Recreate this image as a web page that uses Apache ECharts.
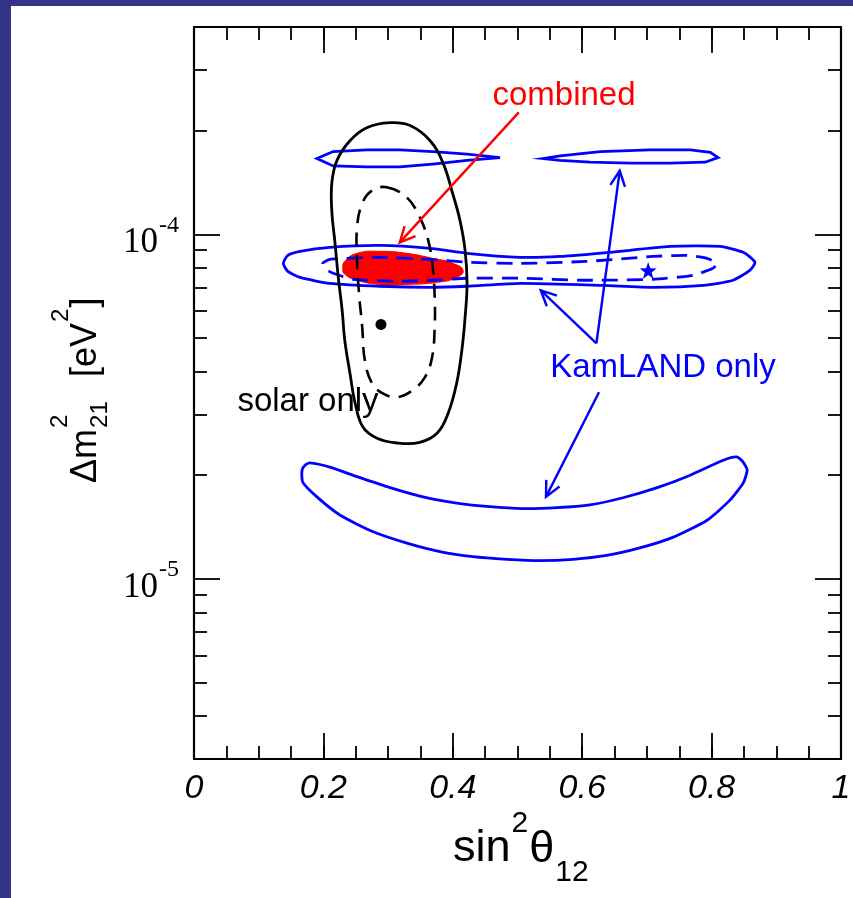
<!DOCTYPE html>
<html><head><meta charset="utf-8">
<script src="https://cdn.jsdelivr.net/npm/echarts@6/dist/echarts.min.js"></script>
<style>html,body{margin:0;padding:0;background:#fff}#c{width:853px;height:898px}</style>
</head><body><div id="c"></div>
<script>
// ---------- data ----------
const xRange = [0, 1];
const xMajorTicks = [0, 0.2, 0.4, 0.6, 0.8, 1];
const xTickLabels = ['0', '0.2', '0.4', '0.6', '0.8', '1'];
const xMinorStep = 0.05;
const yRange = [3e-6, 4e-4];            // Δm² range (eV²)
const yMajorTicks = [1e-5, 1e-4];
const yTickExponents = ['-5', '-4'];
const yMinorMantissas = [2, 3, 4, 5, 6, 7, 8, 9];
const yMinorDecades = [1e-6, 1e-5, 1e-4];

// contours: [sin²θ12, Δm²21 (eV²)]
const solarOuter = [
 [0.303,2.11e-4],[0.334,2.07e-4],[0.365,1.87e-4],[0.385,1.61e-4],[0.400,1.31e-4],[0.411,1.10e-4],
 [0.419,8.99e-5],[0.422,7.21e-5],[0.419,5.74e-5],[0.414,4.61e-5],[0.406,3.70e-5],[0.393,3.03e-5],
 [0.376,2.65e-5],[0.349,2.49e-5],[0.314,2.48e-5],[0.283,2.56e-5],[0.261,2.76e-5],[0.249,3.24e-5],
 [0.241,3.96e-5],[0.233,4.93e-5],[0.229,6.02e-5],[0.223,7.50e-5],[0.218,9.42e-5],[0.213,1.17e-4],
 [0.213,1.41e-4],[0.221,1.64e-4],[0.241,1.87e-4],[0.267,2.04e-4]
];
const solarInner = [
 [0.298,1.37e-4],[0.329,1.28e-4],[0.349,1.12e-4],[0.362,9.61e-5],[0.369,8.02e-5],[0.372,6.57e-5],
 [0.372,5.38e-5],[0.368,4.40e-5],[0.357,3.85e-5],[0.338,3.53e-5],[0.314,3.37e-5],[0.291,3.46e-5],
 [0.275,3.70e-5],[0.264,4.31e-5],[0.260,5.38e-5],[0.255,6.75e-5],[0.252,8.41e-5],[0.252,1.05e-4],
 [0.260,1.23e-4],[0.275,1.34e-4]
];
const combined = [
 [0.230,7.97e-5],[0.233,8.35e-5],[0.252,8.81e-5],[0.287,8.93e-5],[0.329,8.81e-5],[0.369,8.52e-5],
 [0.400,8.24e-5],[0.416,7.86e-5],[0.406,7.50e-5],[0.376,7.26e-5],[0.329,7.16e-5],[0.287,7.16e-5],
 [0.252,7.36e-5],[0.233,7.66e-5]
];
const kamlandMain = [
 [0.138,8.24e-5],[0.145,8.69e-5],[0.164,8.93e-5],[0.210,9.17e-5],[0.287,9.29e-5],[0.365,9.11e-5],
 [0.422,8.81e-5],[0.504,8.58e-5],[0.566,8.63e-5],[0.643,8.87e-5],[0.736,9.23e-5],[0.813,9.23e-5],
 [0.849,8.87e-5],[0.867,8.30e-5],[0.859,7.86e-5],[0.833,7.36e-5],[0.787,7.11e-5],[0.709,7.02e-5],
 [0.632,7.11e-5],[0.504,7.21e-5],[0.422,7.07e-5],[0.365,7.02e-5],[0.287,7.07e-5],[0.210,7.21e-5],
 [0.164,7.50e-5],[0.145,7.81e-5]
];
const kamlandInner = [
 [0.199,8.24e-5],[0.210,8.46e-5],[0.236,8.52e-5],[0.287,8.58e-5],[0.365,8.46e-5],[0.427,8.30e-5],
 [0.504,8.24e-5],[0.607,8.35e-5],[0.709,8.63e-5],[0.762,8.69e-5],[0.793,8.52e-5],[0.808,8.24e-5],
 [0.802,7.97e-5],[0.771,7.61e-5],[0.709,7.41e-5],[0.607,7.36e-5],[0.504,7.46e-5],[0.422,7.46e-5],
 [0.365,7.36e-5],[0.314,7.31e-5],[0.246,7.41e-5],[0.215,7.71e-5],[0.202,7.97e-5]
];
const kamlandUpperLeft = [
 [0.190,1.66e-4],[0.215,1.74e-4],[0.267,1.76e-4],[0.318,1.76e-4],[0.369,1.74e-4],[0.422,1.71e-4],
 [0.473,1.67e-4],[0.422,1.64e-4],[0.369,1.60e-4],[0.318,1.57e-4],[0.267,1.57e-4],[0.215,1.58e-4]
];
const kamlandUpperRight = [
 [0.539,1.66e-4],[0.566,1.69e-4],[0.628,1.74e-4],[0.705,1.76e-4],[0.767,1.76e-4],[0.798,1.73e-4],
 [0.810,1.67e-4],[0.790,1.62e-4],[0.736,1.61e-4],[0.674,1.61e-4],[0.612,1.62e-4],[0.566,1.64e-4]
];
const kamlandLower = [
 [0.172,2.14e-5],[0.179,2.17e-5],[0.210,2.11e-5],[0.252,1.98e-5],[0.303,1.84e-5],[0.354,1.73e-5],
 [0.406,1.66e-5],[0.457,1.62e-5],[0.508,1.60e-5],[0.561,1.61e-5],[0.612,1.64e-5],[0.663,1.72e-5],
 [0.716,1.84e-5],[0.767,2.00e-5],[0.818,2.21e-5],[0.839,2.26e-5],[0.849,2.18e-5],[0.855,2.07e-5],
 [0.849,1.90e-5],[0.828,1.69e-5],[0.793,1.48e-5],[0.740,1.32e-5],[0.689,1.23e-5],[0.638,1.17e-5],
 [0.586,1.14e-5],[0.535,1.13e-5],[0.484,1.14e-5],[0.431,1.16e-5],[0.380,1.20e-5],[0.329,1.27e-5],
 [0.277,1.37e-5],[0.226,1.53e-5],[0.190,1.73e-5],[0.168,1.91e-5],[0.167,2.07e-5]
];
const solarBest = [0.289, 5.48e-5];
const kamlandBest = [0.702, 7.86e-5];
// arrows: [x_from, dm2_from, x_to, dm2_to]
const redArrows = [[0.502, 2.26e-4, 0.318, 9.48e-5]];
const blueArrows = [
 [0.622, 4.83e-5, 0.658, 1.53e-4],
 [0.622, 4.83e-5, 0.536, 6.88e-5],
 [0.626, 3.48e-5, 0.544, 1.73e-5]
];
const annotations = [
 {text: 'combined', color: '#ff0000', x: 564, y: 96},
 {text: 'solar only', color: '#000000', x: 308, y: 402},
 {text: 'KamLAND only', color: '#0000ff', x: 663, y: 368}
];

// ---------- helpers ----------
const L = Math.log10;
const SANS = '"Liberation Sans", Arial, sans-serif';
const SERIF = '"Liberation Serif", "Times New Roman", serif';
const yMajorLog = yMajorTicks.map(L);
const yMinorLog = [];
yMinorDecades.forEach(d => yMinorMantissas.forEach(m => {
  const v = m * d; if (v >= yRange[0] * 0.999 && v <= yRange[1] * 1.001) yMinorLog.push(L(v));
}));
const mctx = document.createElement('canvas').getContext('2d');
function tw(t, font) { mctx.font = font; return mctx.measureText(t).width; }

function contour(points, style, smooth) {
  return {
    type: 'custom', coordinateSystem: 'cartesian2d', xAxisIndex: 0, yAxisIndex: 0,
    silent: true, clip: true,
    data: [[points[0][0], L(points[0][1])]],
    renderItem: (params, api) => ({
      type: 'polygon',
      shape: {points: points.map(p => api.coord([p[0], L(p[1])])), smooth: smooth},
      style: style
    })
  };
}
function arrowSeries(list, color, width) {
  return {
    type: 'custom', coordinateSystem: 'cartesian2d', xAxisIndex: 0, yAxisIndex: 0,
    silent: true, clip: false,
    data: list.map(a => [a[0], L(a[1]), a[2], L(a[3])]),
    renderItem: (params, api) => {
      const p1 = api.coord([api.value(0), api.value(1)]);
      const p2 = api.coord([api.value(2), api.value(3)]);
      const dx = p2[0] - p1[0], dy = p2[1] - p1[1], len = Math.hypot(dx, dy);
      const ux = dx / len, uy = dy / len, a = 0.45, h = 17;
      const c = Math.cos(a), s = Math.sin(a);
      const l = [p2[0] - h * (ux * c - uy * s), p2[1] - h * (uy * c + ux * s)];
      const r = [p2[0] - h * (ux * c + uy * s), p2[1] - h * (uy * c - ux * s)];
      const st = {stroke: color, lineWidth: width, fill: 'none'};
      return {type: 'group', children: [
        {type: 'line', shape: {x1: p1[0], y1: p1[1], x2: p2[0], y2: p2[1]}, style: st},
        {type: 'polyline', shape: {points: [l, p2, r]}, style: st}
      ]};
    }
  };
}

const BLUE = '#0000ff';
const blackSolid = {fill: 'none', stroke: '#000', lineWidth: 2.8};
const blackDash = {fill: 'none', stroke: '#000', lineWidth: 2.6, lineDash: [14, 9]};
const blueSolid = {fill: 'none', stroke: BLUE, lineWidth: 2.8};
const blueDash = {fill: 'none', stroke: BLUE, lineWidth: 2.8, lineDash: [16, 9]};

const tickStyle = {color: '#000', width: 1.8};
function xAx(pos, major) {
  return {
    type: 'value', position: pos, min: xRange[0], max: xRange[1],
    interval: major ? 0.2 : xMinorStep,
    splitLine: {show: false},
    axisLine: {show: major, onZero: false, lineStyle: {color: '#000', width: 2.2}},
    axisTick: {show: true, inside: true, length: major ? 26 : 13, lineStyle: tickStyle},
    axisLabel: (major && pos === 'bottom') ? {
      show: true, margin: 13, showMinLabel: true, showMaxLabel: true,
      fontFamily: SANS, fontStyle: 'italic', fontSize: 34, color: '#000',
      formatter: v => { const i = xMajorTicks.findIndex(t => Math.abs(t - v) < 1e-9); return i >= 0 ? xTickLabels[i] : ''; }
    } : {show: false}
  };
}
function yAx(pos, major) {
  return {
    type: 'value', position: pos, min: L(yRange[0]), max: L(yRange[1]),
    splitLine: {show: false},
    axisLine: {show: major, onZero: false, lineStyle: {color: '#000', width: 2.2}},
    axisTick: {show: true, inside: true, length: major ? 26 : 13, customValues: major ? yMajorLog : yMinorLog, lineStyle: tickStyle},
    axisLabel: {show: false}
  };
}

const option = {
  animation: false,
  backgroundColor: '#fff',
  grid: {left: 194, top: 27, width: 647, height: 732, outerBoundsMode: 'none', containLabel: false},
  xAxis: [xAx('bottom', true), xAx('bottom', false), xAx('top', true), xAx('top', false)],
  yAxis: [yAx('left', true), yAx('left', false), yAx('right', true), yAx('right', false)],
  series: [
    contour(combined, {fill: '#ff0000', stroke: '#ff0000', lineWidth: 1}, 0.5),
    contour(kamlandMain, blueSolid, 0.2),
    contour(kamlandInner, blueDash, 0.2),
    contour(kamlandUpperLeft, blueSolid, 0),
    contour(kamlandUpperRight, blueSolid, 0),
    contour(kamlandLower, blueSolid, 0.2),
    contour(solarOuter, blackSolid, 0.4),
    contour(solarInner, blackDash, 0.4),
    {type: 'scatter', xAxisIndex: 0, yAxisIndex: 0, silent: true, symbol: 'circle', symbolSize: 11,
     itemStyle: {color: '#000', opacity: 1, borderWidth: 0}, emphasis: {disabled: true},
     data: [[solarBest[0], L(solarBest[1])]]},
    {type: 'scatter', xAxisIndex: 0, yAxisIndex: 0, silent: true,
     symbol: 'path://M0,-10 L2.35,-3.24 9.51,-3.09 3.8,1.24 5.88,8.09 0,4 -5.88,8.09 -3.8,1.24 -9.51,-3.09 -2.35,-3.24 Z',
     symbolSize: 17, itemStyle: {color: BLUE, opacity: 1, borderWidth: 0}, emphasis: {disabled: true},
     data: [[kamlandBest[0], L(kamlandBest[1])]]},
    arrowSeries(redArrows, '#ff0000', 2.4),
    arrowSeries(blueArrows, BLUE, 2.4)
  ]
};

const chart = echarts.init(document.getElementById('c'), null, {renderer: 'canvas'});
chart.setOption(option);

// ---------- text graphics ----------
const g = [];
g.push({type: 'rect', shape: {x: 0, y: 0, width: 853, height: 6}, style: {fill: '#333388'}, z: 100});
g.push({type: 'rect', shape: {x: 0, y: 0, width: 11, height: 898}, style: {fill: '#333388'}, z: 100});
function txt(x, y, text, font, color, align) {
  return {type: 'text', x: x, y: y, z: 50, silent: true,
    style: {text: text, font: font, fill: color || '#000', align: align || 'left', verticalAlign: 'middle',
            textAlign: align || 'left', textVerticalAlign: 'middle'}};
}
// y tick labels 10^n positioned through the axis scale
const gridLeft = chart.convertToPixel({xAxisIndex: 0}, xRange[0]);
yMajorTicks.forEach((v, i) => {
  const py = chart.convertToPixel({yAxisIndex: 0}, L(v));
  g.push(txt(gridLeft - 36, py + 8.5, '10', '35px ' + SERIF, '#000', 'right'));
  g.push(txt(gridLeft - 35, py - 9, yTickExponents[i], '24px ' + SERIF, '#000', 'left'));
});
// annotations
annotations.forEach(a => g.push(txt(a.x, a.y, a.text, '33px ' + SANS, a.color, 'center')));
// x axis name: sin²θ12
{
  const fM = '45px ' + SANS, fS = '30px ' + SANS;
  let x = 453;
  g.push(txt(x, 849, 'sin', fM)); x += tw('sin', fM) + 1;
  g.push(txt(x, 824, '2', fS)); x += tw('2', fS) + 1;
  g.push(txt(x, 850, 'θ', fM)); x += tw('θ', fM) + 1;
  g.push(txt(x, 873, '12', fS));
}
// y axis name: Δm²21 [eV²] (rotated)
{
  const fM = '36px ' + SANS, fS = '24px ' + SANS;
  const ch = [];
  const w1 = tw('Δm', fM);
  ch.push(txt(0, 0, 'Δm', fM));
  ch.push(txt(w1 + 1, -26, '2', fS));
  ch.push(txt(w1 + 1, 14, '21', fS));
  const x2 = 106, w2 = tw('[eV', fM);
  ch.push(txt(x2, 0, '[eV', fM));
  ch.push(txt(x2 + w2 + 1, -25, '2', fS));
  ch.push(txt(x2 + w2 + tw('2', fS) + 2, 0, ']', fM));
  g.push({type: 'group', x: 86, y: 483, rotation: Math.PI / 2, children: ch});
}
chart.setOption({graphic: g});
</script>
</body></html>
